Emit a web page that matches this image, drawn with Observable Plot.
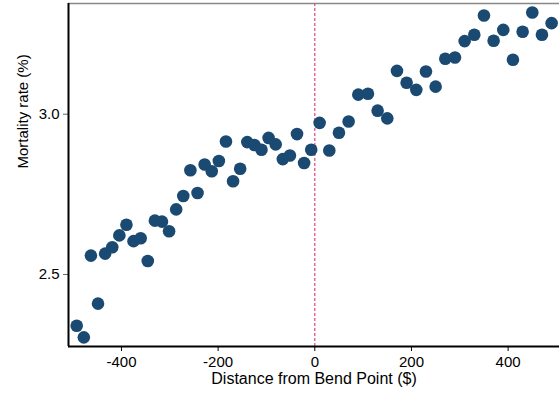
<!DOCTYPE html>
<html>
<head>
<meta charset="utf-8">
<script src="https://cdn.jsdelivr.net/npm/d3@7"></script>
<script src="https://cdn.jsdelivr.net/npm/@observablehq/plot@0.6"></script>
<style>
  html, body { margin: 0; padding: 0; background: #fff; }
  #chart svg { display: block; }
</style>
</head>
<body>
<div id="chart"></div>
<script>
// Distance from bend point ($), left of bend
const distanceLeft = [-492.6, -477.9, -463.2, -448.5, -433.8, -419.1, -404.4, -389.7, -375.0, -360.3,
  -345.6, -330.9, -316.2, -301.5, -286.8, -272.1, -257.4, -242.6, -227.9, -213.2,
  -198.5, -183.8, -169.1, -154.4, -139.7, -125.0, -110.3, -95.6, -80.9, -66.2,
  -51.5, -36.8, -22.1, -7.4];
const mortalityLeft = [2.340, 2.304, 2.559, 2.409, 2.565, 2.585, 2.622, 2.655, 2.604, 2.613,
  2.542, 2.668, 2.665, 2.635, 2.703, 2.745, 2.825, 2.754, 2.843, 2.822,
  2.854, 2.915, 2.791, 2.830, 2.913, 2.904, 2.889, 2.926, 2.906, 2.860,
  2.871, 2.938, 2.848, 2.889];
// right of bend
const distanceRight = [10, 30, 50, 70, 90, 110, 130, 150, 170, 190,
  210, 230, 250, 270, 290, 310, 330, 350, 370, 390,
  410, 430, 450, 470, 490];
const mortalityRight = [2.973, 2.887, 2.942, 2.977, 3.061, 3.064, 3.011, 2.987, 3.135, 3.098,
  3.076, 3.133, 3.086, 3.173, 3.177, 3.228, 3.248, 3.308, 3.229, 3.263,
  3.170, 3.257, 3.317, 3.248, 3.284];

const xTicks = [-400, -200, 0, 200, 400];
const yTicks = [2.5, 3.0];
const bendPoint = [0];
const xDomain = [-509.6, 506.3];
const yDomain = [2.2754, 3.3453];
const xTitle = "Distance from Bend Point ($)";
const yTitle = "Mortality rate (%)";

const points = [
  ...distanceLeft.map((d, i) => ({distance: d, mortality: mortalityLeft[i]})),
  ...distanceRight.map((d, i) => ({distance: d, mortality: mortalityRight[i]}))
];

const chart = Plot.plot({
  width: 559,
  height: 394,
  marginLeft: 68,
  marginRight: 0,
  marginTop: 3,
  marginBottom: 48,
  style: {fontFamily: "'Liberation Sans', Arial, sans-serif", fontSize: "15px", color: "#000", background: "#fff"},
  x: {domain: xDomain},
  y: {domain: yDomain},
  marks: [
    Plot.ruleY([yDomain[1]], {stroke: "#888", strokeWidth: 1.5}),
    Plot.ruleX(bendPoint, {stroke: "#e4457a", strokeWidth: 1.2, strokeDasharray: "3,2"}),
    Plot.axisX({ticks: xTicks, tickSize: 5, tickPadding: 5, stroke: "#000", fill: "#000", fontSize: 15, tickFormat: d => String(d), label: null}),
    Plot.axisY({ticks: yTicks, tickSize: 5, tickPadding: 4, stroke: "#666", fill: "#000", fontSize: 15, tickFormat: d => d.toFixed(1), label: null}),
    Plot.ruleX([xDomain[0]], {stroke: "#000", strokeWidth: 2}),
    Plot.ruleY([yDomain[0]], {stroke: "#000", strokeWidth: 2}),
    Plot.dot(points, {x: "distance", y: "mortality", r: 6.3, fill: "#1a4a72", stroke: "none"}),
    Plot.text([xTitle], {frameAnchor: "bottom", dy: 37.5, fontSize: 16, fill: "#000"}),
    Plot.text([yTitle], {frameAnchor: "left", dx: -45, dy: -6.5, rotate: -90, fontSize: 15, fill: "#000"})
  ]
});
document.getElementById("chart").append(chart);
</script>
</body>
</html>
